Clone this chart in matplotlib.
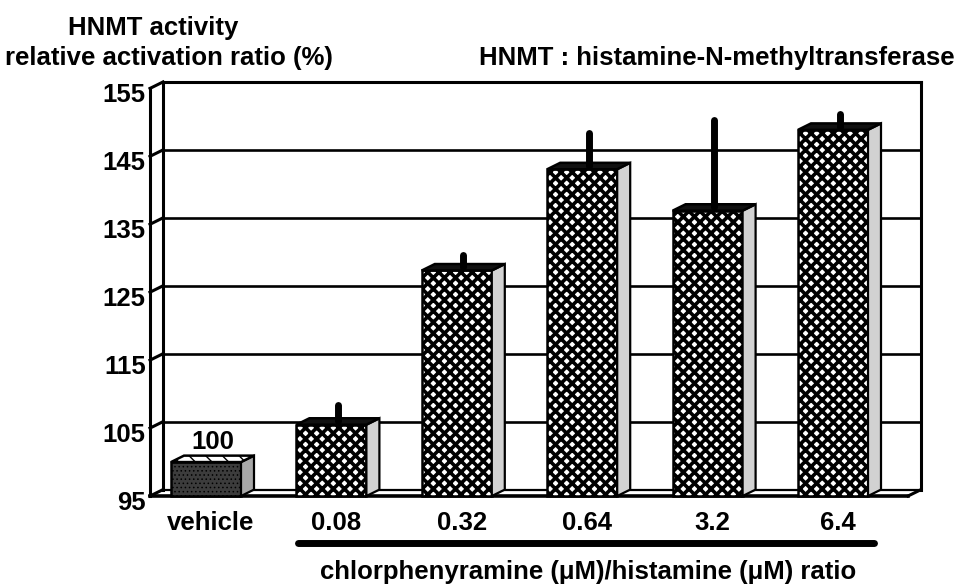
import matplotlib
matplotlib.use("Agg")
import matplotlib.pyplot as plt
from matplotlib.patches import Polygon, Rectangle
import matplotlib.transforms as mtransforms
import numpy as np

plt.rcParams['font.family'] = ['Liberation Sans', 'DejaVu Sans']
plt.rcParams['font.weight'] = 'bold'

# ---------------- data ----------------
categories = ["vehicle", "0.08", "0.32", "0.64", "3.2", "6.4"]
activity = [100.0, 105.5, 128.2, 143.1, 137.0, 148.9]
err_up = [0.0, 3.0, 2.3, 5.3, 13.4, 2.3]
yticks = [95, 105, 115, 125, 135, 145, 155]
vehicle_label = "100"

# ---------------- layout ----------------
FIG_W, FIG_H = 959, 585
fig = plt.figure(figsize=(FIG_W / 100, FIG_H / 100), dpi=100)
ax_l, ax_r, ax_b, ax_t = 150, 921, 500, 88.4
ax = fig.add_axes([ax_l / FIG_W, (FIG_H - ax_b) / FIG_H,
                   (ax_r - ax_l) / FIG_W, (ax_b - ax_t) / FIG_H])
step_px = 125.4
x_first_px = 206
xl = (ax_l - x_first_px) / step_px
xr = (ax_r - x_first_px) / step_px
ax.set_xlim(xl, xr)
ax.set_ylim(yticks[0], yticks[-1])
for s in ax.spines.values():
    s.set_visible(False)
ax.set_facecolor('none')

px_per_unit = (ax_b - ax_t) / (yticks[-1] - yticks[0])
DX = 13 / step_px
DY = 6.5 / px_per_unit
W = 70 / step_px
ybase = yticks[0]
ytop = yticks[-1]

wall_kw = dict(color='black', lw=2.2, clip_on=False, zorder=1,
               solid_capstyle='projecting')
# left wall
ax.plot([xl, xl], [ybase, ytop], **wall_kw)
ax.plot([xl + DX, xl + DX], [ybase + DY, ytop + DY], **wall_kw)
for t in yticks:
    ax.plot([xl, xl + DX], [t, t + DY], **wall_kw)
# back wall gridlines
for t in yticks[1:-1]:
    ax.plot([xl + DX, xr], [t + DY, t + DY], color='black', lw=1.9,
            clip_on=False, zorder=1)
ax.plot([xl + DX, xr], [ytop + DY, ytop + DY], **wall_kw)
ax.plot([xr, xr], [ybase + DY, ytop + DY], **wall_kw)
# floor
ax.plot([xl + DX, xr], [ybase + DY, ybase + DY], color='black', lw=1.6,
        clip_on=False, zorder=1)
ax.plot([xl, xr - DX], [ybase, ybase], color='black', lw=2.6,
        clip_on=False, zorder=1)
ax.plot([xr - DX, xr], [ybase, ybase + DY], **wall_kw)


def make_patch(cls, *args, hatch_lw=1.0, **kw):
    with plt.rc_context({'hatch.linewidth': hatch_lw}):
        p = cls(*args, **kw)
        if hasattr(p, 'set_hatch_linewidth'):
            p.set_hatch_linewidth(hatch_lw)
    ax.add_patch(p)
    return p


for i, (cat, v, e) in enumerate(zip(categories, activity, err_up)):
    left, right = i - W / 2, i + W / 2
    if i == 0:
        front_kw = dict(facecolor='#3c3c3c', edgecolor='black', hatch='....')
        side_kw = dict(facecolor='#a8a8a8', edgecolor='black')
        top_kw = dict(facecolor='white', edgecolor='black', hatch='\\\\')
        hl_front, hl_top = 0.6, 1.0
    else:
        front_kw = dict(facecolor='white', edgecolor='black', hatch='xxx')
        side_kw = dict(facecolor='#d2d2d2', edgecolor='black')
        top_kw = dict(facecolor='#111111', edgecolor='black')
        hl_front, hl_top = 2.6, 1.0
    make_patch(Rectangle, (left, ybase), W, v - ybase, lw=1.8,
               clip_on=False, zorder=2, hatch_lw=hl_front, **front_kw)
    make_patch(Polygon, [(right, ybase), (right + DX, ybase + DY),
                         (right + DX, v + DY), (right, v)], closed=True,
               lw=1.6, clip_on=False, zorder=2, **side_kw)
    make_patch(Polygon, [(left, v), (right, v), (right + DX, v + DY),
                         (left + DX, v + DY)], closed=True, lw=1.8,
               clip_on=False, zorder=2, hatch_lw=hl_top, **top_kw)
    if e > 0:
        lw_err = 5.0
        cap = (lw_err * 100 / 72 / 2) / px_per_unit
        ax.plot([i + DX / 2, i + DX / 2], [v + DY / 2, v + DY / 2 + e - cap],
                color='black', lw=lw_err, solid_capstyle='round',
                clip_on=False, zorder=3)

# value label above the vehicle bar
ax.annotate(vehicle_label, xy=(0 + DX / 2, activity[0] + DY),
            xytext=(0, 5), textcoords='offset points', ha='center',
            va='baseline', fontsize=18.5, fontweight='bold', zorder=4)

FS = 18.5
x_shift = 5 / step_px
y_shift = 4 / px_per_unit
ax.set_xticks(np.arange(len(categories)) + x_shift, categories)
ax.set_yticks(np.array(yticks) - y_shift, [str(t) for t in yticks])
ax.tick_params(axis='x', length=0, pad=8, labelsize=FS)
ax.tick_params(axis='y', length=0, pad=3, labelsize=FS)
for lab in ax.get_xticklabels() + ax.get_yticklabels():
    lab.set_fontweight('bold')

# group bar and axis title under the concentration bars
blend = mtransforms.blended_transform_factory(ax.transData, ax.transAxes)
line_y = (ax_b - 543) / (ax_b - ax_t)
ax.plot([0.73, 5.33], [line_y, line_y], color='black', lw=5,
        solid_capstyle='round', transform=blend, clip_on=False)
text_y = (ax_b - 579) / (ax_b - ax_t)
ax.text(3.05, text_y, "chlorphenyramine (\u03bcM)/histamine (\u03bcM) ratio",
        transform=blend, ha='center', va='baseline', fontsize=FS,
        fontweight='bold')

fig.text(153 / FIG_W, 1 - 35 / FIG_H, "HNMT activity", ha='center',
         va='baseline', fontsize=FS, fontweight='bold')
fig.text(5 / FIG_W, 1 - 65 / FIG_H, "relative activation ratio (%)",
         ha='left', va='baseline', fontsize=FS, fontweight='bold')
fig.text(955 / FIG_W, 1 - 65 / FIG_H, "HNMT : histamine-N-methyltransferase",
         ha='right', va='baseline', fontsize=FS, fontweight='bold')

fig.savefig("out.png", dpi=100, facecolor='white')
